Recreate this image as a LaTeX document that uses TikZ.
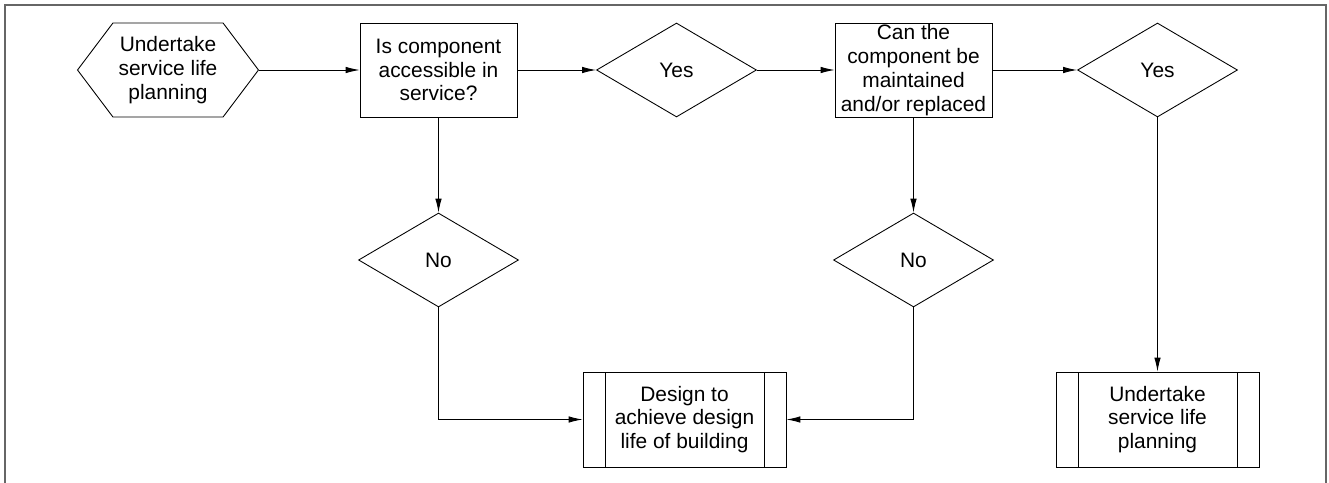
\documentclass[tikz,border=0pt]{standalone}
\usepackage{fontspec}
\setmainfont{Liberation Sans}
\usetikzlibrary{shapes.geometric,shapes.symbols,arrows.meta}
\tikzset{
  box/.style={draw, rectangle, minimum width=3.14cm, minimum height=1.88cm, inner sep=0pt, align=center},
  choice/.style={draw, diamond, minimum width=3.2cm, minimum height=1.88cm, inner sep=0pt},
  terminal/.style={draw, signal, signal to=west and east, signal pointer angle=106, minimum width=3.62cm, minimum height=1.88cm, inner sep=0pt, align=center},
  predef/.style={draw, rectangle, minimum width=4.06cm, minimum height=1.9cm, inner sep=0pt, align=center,
    path picture={\draw ([xshift=0.44cm]path picture bounding box.north west) -- ([xshift=0.44cm]path picture bounding box.south west);
                  \draw ([xshift=-0.44cm]path picture bounding box.north east) -- ([xshift=-0.44cm]path picture bounding box.south east);}},
  flow/.style={-{Latex[length=2.8mm,width=1.3mm]}},
}
\begin{document}
\begin{tikzpicture}[x=0.02cm, y=-0.02cm, line width=0.5pt, font=\fontsize{11.9}{13.6}\selectfont]
\useasboundingbox (0,0) rectangle (1329,483);
\draw[black!60, line width=0.9pt] (5,483) -- (5,5) -- (1326,5) -- (1326,483);
% top row
\node[terminal] (start) at (168,70) {Undertake\\service life\\planning};
\node[box] (access) at (438.5,70) {Is component\\accessible in\\service?};
\node[choice] (yesa) at (676.5,70) {Yes};
\node[box] (maint) at (913.5,70) {Can the\\component be\\maintained\\and/or replaced};
\node[choice] (yesb) at (1157.5,70) {Yes};
% middle and bottom rows
\node[choice] (noa) at (438.5,260) {No};
\node[choice] (nob) at (913.5,260) {No};
\node[predef] (design) at (684.5,419.5) {Design to\\achieve design\\life of building};
\node[predef] (slp) at (1157.5,419.5) {Undertake\\service life\\planning};
% connectors
\draw[flow] (start.east) -- (access.west);
\draw[flow] (access.east) -- (yesa.west);
\draw[flow] (yesa.east) -- (maint.west);
\draw[flow] (maint.east) -- (yesb.west);
\draw[flow] (access.south) -- (noa.north);
\draw[flow] (maint.south) -- (nob.north);
\draw[flow] (yesb.south) -- (slp.north);
\draw[flow] (noa.south) |- (design.west);
\draw[flow] (nob.south) |- (design.east);
\end{tikzpicture}
\end{document}
